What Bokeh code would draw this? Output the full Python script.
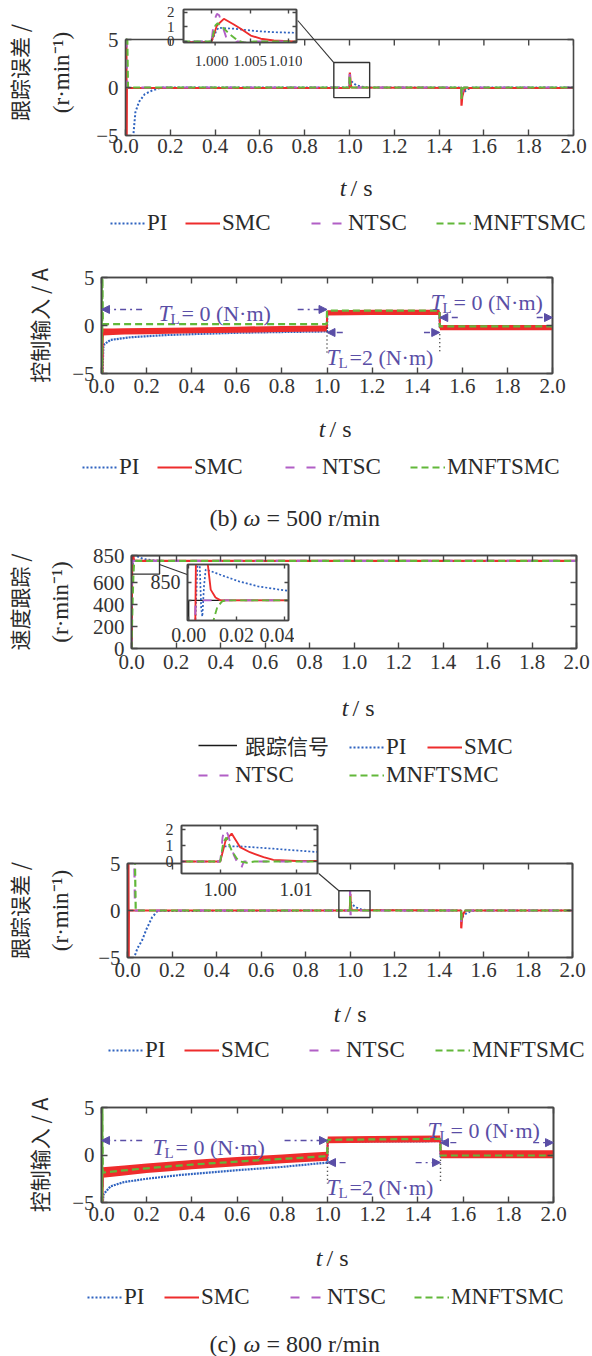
import numpy as np
from bokeh.plotting import figure
from bokeh.models import (Range1d, LinearAxis, FixedTicker, CustomJSTickFormatter,
                          NumeralTickFormatter, Label, Legend, LegendItem, Arrow, NormalHead, Span)
from bokeh.layouts import column
from bokeh.embed import file_html
from bokeh.resources import INLINE

# ================= DATA =================
SERIES = ["PI", "SMC", "NTSC", "MNFTSMC"]
REF_NAME = "跟踪信号"

# --- (b) 500 r/min : tracking error ---
e5_pi_t = [0.030, 0.035, 0.044, 0.060, 0.086, 0.120, 0.160, 0.9995, 1.0000, 1.0006, 1.0009, 1.0029, 1.0059, 1.0081,
           1.0107, 1.015, 1.020, 1.030, 1.050, 1.080, 1.4995, 1.5000, 1.5020, 1.5100, 1.5200, 1.5300, 1.5500, 2.000]
e5_pi_v = [-6.0, -5.0, -2.6, -1.5, -0.7, -0.3, 0.0, 0.0, 0.0, 0.69, 0.94, 0.88, 0.71, 0.64,
           0.60, 0.50, 0.40, 0.25, 0.10, 0.0, 0.0, -0.80, -0.75, -0.50, -0.30, -0.15, 0.0, 0.0]
e5_smc_t = [0.000, 0.001, 0.002, 0.003, 0.004, 0.005, 0.006, 0.9995, 1.0000, 1.0007, 1.0016, 1.0029, 1.0038, 1.0051,
            1.0064, 1.0081, 1.0107, 1.4995, 1.5000, 1.5030, 1.5100, 1.5200, 2.000]
e5_smc_v = [5.0, -6.0, 5.0, -6.0, 5.0, -6.0, -0.05, -0.05, 0.0, 1.10, 1.56, 1.17, 0.88, 0.41,
            0.19, 0.07, 0.0, -0.05, -1.9, -1.0, -0.3, -0.05, -0.05]
e5_ntsc_t = [0.000, 0.004, 0.008, 0.9995, 1.0000, 1.0003, 1.0007, 1.0010, 1.0014, 1.0019, 1.0022, 1.0030, 1.0034,
             1.0047, 1.0060, 1.4995, 1.5000, 1.5030, 1.5100, 2.000]
e5_ntsc_v = [5.0, 5.0, 0.0, 0.0, 0.0, 1.38, 1.90, 1.80, 1.10, 0.30, 0.0, -0.06, 0.0,
             -0.07, 0.0, 0.0, -1.3, -0.5, 0.0, 0.0]
e5_mn_t = [0.000, 0.008, 0.011, 0.9995, 1.0000, 1.0005, 1.0008, 1.0014, 1.0023, 1.0034, 1.0042, 1.0055,
           1.4995, 1.5000, 1.5020, 1.5100, 2.000]
e5_mn_v = [5.0, 5.0, 0.0, 0.0, 0.0, 1.10, 1.26, 0.99, 0.53, 0.06, -0.08, 0.0,
           0.0, -1.2, -0.4, 0.0, 0.0]

# --- (b) 500 r/min : control input ---
u5_t = [0.0, 0.004, 0.006, 0.05, 0.1, 0.2, 0.4, 0.6, 0.8, 0.999, 1.001, 1.2, 1.499, 1.501, 1.7, 2.0]
u5_smc_lo = [-5.5, -5.5, -1.05, -1.0, -0.95, -0.9, -0.82, -0.75, -0.68, -0.62, 1.05, 1.1, 1.1, -0.5, -0.5, -0.5]
u5_smc_hi = [-5.5, -5.5, -0.3, -0.3, -0.28, -0.25, -0.2, -0.12, -0.05, 0.0, 1.6, 1.65, 1.65, 0.05, 0.05, 0.05]
u5_smc_mid = [-5.5, -5.5, -0.68, -0.65, -0.62, -0.58, -0.51, -0.44, -0.37, -0.31, 1.32, 1.37, 1.37, -0.22, -0.22, -0.22]
u5_pi_t = [0.004, 0.008, 0.013, 0.04, 0.13, 0.28, 0.43, 0.6, 0.8, 1.0, 1.001, 1.499, 1.5, 2.0]
u5_pi_v = [-5.5, -2.3, -1.95, -1.5, -1.22, -1.0, -0.88, -0.76, -0.68, -0.62, 1.3, 1.3, -0.2, -0.2]
u5_ntsc_t = [0.0, 0.004, 0.006, 0.999, 1.001, 1.499, 1.501, 2.0]
u5_ntsc_v = [-5.5, -5.5, -0.6, -0.35, 1.3, 1.35, -0.25, -0.25]
u5_mn_t = [0.0, 0.001, 0.002, 0.003, 0.004, 0.006, 0.999, 1.0, 1.499, 1.5, 2.0]
u5_mn_v = [5.5, -5.5, 5.5, -5.5, 5.5, 0.15, 0.15, 1.55, 1.55, -0.1, -0.1]

# --- (c) 800 r/min : speed tracking ---
sp_ref_t = [0.0, 0.0, 2.0]
sp_ref_v = [0, 800, 800]
sp_pi_t = [0.0, 0.002, 0.004, 0.0046, 0.0052, 0.0057, 0.0064, 0.0071, 0.009, 0.013, 0.021, 0.029, 0.040,
           0.060, 0.100, 0.150, 2.0]
sp_pi_v = [0, 600, 960, 900, 780, 755, 840, 886, 882, 872, 853, 839, 828, 815, 805, 800, 800]
sp_smc_t = [0.0, 0.0027, 0.0031, 0.0050, 0.0078, 0.0080, 0.0092, 0.0112, 0.0133, 0.020, 2.0]
sp_smc_v = [0, 700, 960, 990, 950, 900, 830, 808, 800, 800, 800]
sp_ntsc_t = [0.0, 0.0028, 0.0030, 2.0]
sp_ntsc_v = [0, 780, 800, 800]
sp_mn_t = [0.0, 0.002, 0.005, 0.008, 0.0098, 0.0106, 0.012, 0.014, 0.0154, 0.020, 2.0]
sp_mn_v = [0, 200, 450, 650, 730, 750, 783, 797, 800, 800, 800]

# --- (c) 800 r/min : tracking error ---
e8_pi_t = [0.025, 0.030, 0.045, 0.065, 0.085, 0.110, 0.135, 0.9995, 1.0000, 1.0004, 1.0026, 1.0070, 1.0125,
           1.020, 1.030, 1.050, 1.080, 1.4995, 1.5000, 1.5020, 1.5100, 1.5200, 1.5400, 1.5600, 2.000]
e8_pi_v = [-6.0, -5.0, -4.0, -3.2, -2.0, -0.75, -0.05, 0.0, 0.0, 0.95, 0.95, 0.80, 0.60,
           0.45, 0.30, 0.12, 0.02, 0.0, -0.9, -0.85, -0.55, -0.35, -0.1, 0.0, 0.0]
e8_smc_t = [0.000, 0.001, 0.002, 0.003, 0.004, 0.005, 0.006, 0.9995, 1.0000, 1.0007, 1.0015, 1.0026, 1.0039,
            1.0057, 1.0070, 1.0100, 1.4995, 1.5000, 1.5030, 1.5100, 1.5200, 2.000]
e8_smc_v = [6.0, -6.0, 6.0, -6.0, 6.0, -6.0, 0.0, 0.0, 0.0, 1.30, 1.75, 0.90, 0.58,
            0.27, 0.10, 0.03, 0.0, -1.9, -0.9, -0.3, 0.0, 0.0]
e8_ntsc_t = [0.000, 0.030, 0.034, 0.9995, 1.0000, 1.0003, 1.0006, 1.0010, 1.0018, 1.0027, 1.0031,
             1.4995, 1.5000, 1.5030, 1.5100, 2.000]
e8_ntsc_v = [6.0, 6.0, 0.0, 0.0, 0.0, 1.50, 2.10, 1.70, 0.38, -0.50, 0.0, 0.0, -1.2, -0.4, 0.0, 0.0]
e8_mn_t = [0.000, 0.033, 0.037, 0.9995, 1.0000, 1.0004, 1.0008, 1.0015, 1.0022, 1.0026, 1.0035, 1.0045,
           1.4995, 1.5000, 1.5020, 1.5100, 2.000]
e8_mn_v = [6.0, 6.0, 0.0, 0.0, 0.0, 1.20, 1.50, 0.69, 0.17, 0.0, -0.08, 0.0, 0.0, -1.1, -0.4, 0.0, 0.0]

# --- (c) 800 r/min : control input ---
u8_t = [0.0, 0.004, 0.006, 0.1, 0.2, 0.3, 0.4, 0.5, 0.6, 0.7, 0.8, 0.9, 0.999, 1.001, 1.2, 1.499, 1.501, 1.7, 2.0]
u8_smc_lo = [-5.5, -5.5, -2.4, -2.15, -1.9, -1.7, -1.5, -1.33, -1.18, -1.03, -0.88, -0.73, -0.6, 1.25, 1.3, 1.35,
             -0.35, -0.35, -0.35]
u8_smc_hi = [-5.5, -5.5, -1.3, -1.1, -0.9, -0.7, -0.52, -0.37, -0.22, -0.08, 0.06, 0.2, 0.35, 1.95, 2.0, 2.05,
             0.5, 0.5, 0.5]
u8_smc_mid = [-5.5, -5.5, -1.85, -1.62, -1.4, -1.2, -1.01, -0.85, -0.7, -0.55, -0.41, -0.27, -0.12, 1.6, 1.65, 1.7,
              0.08, 0.08, 0.08]
u8_mn_t = [0.0, 0.001, 0.002, 0.003, 0.004, 0.006, 0.1, 0.2, 0.3, 0.4, 0.5, 0.6, 0.7, 0.8, 0.9, 0.999, 1.0,
           1.499, 1.5, 2.0]
u8_mn_v = [5.5, -5.5, 5.5, -5.5, 5.5, -1.85, -1.62, -1.4, -1.2, -1.01, -0.85, -0.7, -0.55, -0.41, -0.27, -0.12, 1.6,
           1.7, -0.05, -0.05]
u8_pi_t = [0.004, 0.008, 0.01, 0.04, 0.1, 0.2, 0.35, 0.5, 0.6, 0.8, 1.0, 1.001, 1.499, 1.5, 2.0]
u8_pi_v = [-5.5, -4.4, -4.1, -3.3, -2.85, -2.5, -2.1, -1.8, -1.6, -1.25, -0.8, 1.4, 1.45, -0.2, -0.2]
u8_ntsc_t = [0.0, 0.004, 0.006, 0.999, 1.001, 1.499, 1.501, 2.0]
u8_ntsc_v = [-5.5, -5.5, -1.9, -0.15, 1.55, 1.65, 0.0, 0.0]

# ticks
t_ticks = [0.0, 0.2, 0.4, 0.6, 0.8, 1.0, 1.2, 1.4, 1.6, 1.8, 2.0]
pm5_ticks = [-5, 0, 5]
speed_ticks = [0, 200, 400, 600, 850]
insA_xticks = [1.000, 1.005, 1.010]
insA_yticks = [0, 1, 2]
insC_xticks = [0.0, 0.02, 0.04]
insC_yticks = [800, 850]
insD_xticks = [1.00, 1.01]
insD_yticks = [0, 1, 2]

# zoom boxes (left, right, bottom, top)
boxA = [0.93, 1.09, -1.05, 2.6]
boxC = [0.0, 0.126, 680, 850]
boxD = [0.95, 1.09, -0.75, 2.1]

# ================= STYLE =================
SERIF = "Liberation Serif"
CJK = "Noto Sans CJK SC"
C_PI, C_SMC, C_NTSC, C_MN = "#2f63c0", "#ee2c2c", "#b15fc6", "#62b83a"
C_REF, C_ANN, AX, TXT = "#1a1a1a", "#5a4ea6", "#474747", "#2a2a2a"
D_PI, D_NTSC, D_MN = "2 2", "9 12", "7 4"
TICK_FS = 21


def new_fig(W, H, bl, br, bt, bb, xr, yr, transparent=False, axes=True):
    kw = {} if axes else dict(x_axis_type=None, y_axis_type=None)
    p = figure(width=W, height=H, x_range=Range1d(*xr), y_range=Range1d(*yr),
               toolbar_location=None, output_backend="svg", title=None,
               min_border_left=bl, min_border_right=br, min_border_top=bt, min_border_bottom=bb, **kw)
    p.frame_align = False
    p.grid.visible = False
    p.outline_line_color = AX
    p.outline_line_width = 1.6
    p.background_fill_color = "white"
    if transparent:
        p.border_fill_color = None
    return p


def tickstyle(ax, tl):
    ax.minor_tick_line_color = None
    ax.major_tick_in = tl
    ax.major_tick_out = 0
    ax.major_tick_line_color = AX
    ax.major_tick_line_width = 1.4
    ax.axis_line_color = AX
    ax.axis_line_width = 1.6


def dress(p, xticks, yticks, xfmt, yover, fsx, fsy, xs, ys, tl, top=True, ybounds=None):
    xa, ya = p.xaxis[0], p.yaxis[0]
    xa.ticker = FixedTicker(ticks=xticks)
    ya.ticker = FixedTicker(ticks=yticks)
    if xfmt:
        xa.formatter = NumeralTickFormatter(format=xfmt)
    if yover:
        ya.major_label_overrides = yover
    if ybounds:
        ya.bounds = ybounds
    for ax, st, fs in ((xa, xs, fsx), (ya, ys, fsy)):
        tickstyle(ax, tl)
        ax.major_label_text_font = SERIF
        ax.major_label_text_font_size = f"{fs}px"
        ax.major_label_text_color = "#333333"
        ax.major_label_standoff = st
    locs = [("right", yticks)]
    if top:
        locs.append(("above", xticks))
    for loc, ticks in locs:
        ax = LinearAxis(ticker=FixedTicker(ticks=ticks),
                        formatter=CustomJSTickFormatter(code="return ''"))
        ax.major_label_text_font_size = "1px"
        ax.major_label_standoff = 0
        if loc == "right" and ybounds:
            ax.bounds = ybounds
        tickstyle(ax, tl)
        p.add_layout(ax, loc)


def ytitles(p, inner, inner_font, inner_size, inner_st, outer=None, outer_st=0):
    ya = p.yaxis[0]
    ya.axis_label = inner
    ya.axis_label_text_font = inner_font
    ya.axis_label_text_font_size = f"{inner_size}px"
    ya.axis_label_text_font_style = "normal"
    ya.axis_label_text_color = TXT
    ya.axis_label_standoff = inner_st
    if outer:
        ax = LinearAxis(ticker=FixedTicker(ticks=[]), axis_label=outer,
                        formatter=CustomJSTickFormatter(code="return ''"))
        ax.axis_line_color = None
        ax.major_tick_line_color = None
        ax.minor_tick_line_color = None
        ax.major_label_text_font_size = "1px"
        ax.major_label_standoff = 0
        ax.axis_label_text_font = CJK
        ax.axis_label_text_font_size = "21px"
        ax.axis_label_text_font_style = "normal"
        ax.axis_label_text_color = TXT
        ax.axis_label_standoff = outer_st
        p.add_layout(ax, "left")


def main_panel(P, xr, yr, xticks, yticks, xfmt, yover, xs, top=True, ybounds=None):
    p = new_fig(592, P["H"], P["fl"], 592 - P["fr"], P["ft"] - P["y0"], P["y0"] + P["H"] - P["fb"], xr, yr)
    dress(p, xticks, yticks, xfmt, yover, TICK_FS, TICK_FS, xs, 7, 6, top=top, ybounds=ybounds)
    return p


def strip(S):
    p = new_fig(592, S["H"], 0, 0, 0, 0, (0, 592), (0, S["H"]), axes=False)
    p.outline_line_color = None
    return p


def inset_panel(P, I, xr, yr, xticks, yticks, xfmt, yover, fsx, fsy, xs, ys):
    bl, br, bt, bb = I["b"]
    W = bl + (I["R"] - I["L"]) + br
    H = bt + (I["B"] - I["T"]) + bb
    x0, y0 = I["L"] - bl, I["T"] - bt
    p = new_fig(W, H, bl, br, bt, bb, xr, yr, transparent=True)
    dress(p, xticks, yticks, xfmt, yover, fsx, fsy, xs, ys, 4)
    bottom = P["y0"] + P["H"]
    p.margin = (y0 - bottom, 0, bottom - (y0 + H), x0)
    return p


def put(p, P, X, Y, text, size, font=SERIF, style="normal", color=TXT, align="center",
        baseline="middle", angle=0.0):
    p.add_layout(Label(x=X - P["fl"], y=P["fb"] - Y, x_units="screen", y_units="screen", text=text,
                       text_font=font, text_font_size=f"{size}px", text_font_style=style,
                       text_color=color, text_align=align, text_baseline=baseline, angle=angle))


def legend_item(p, P, X, Y, label, r, font=SERIF, size=23, standoff=2, gw=35):
    h = 26
    lg = Legend(items=[LegendItem(label=label, renderers=[r])],
                location=(X - P["fl"], P["fb"] - Y - h / 2), orientation="horizontal",
                glyph_width=gw, glyph_height=h, label_height=h, label_standoff=standoff,
                padding=0, margin=0, spacing=0, border_line_color=None, background_fill_alpha=0,
                inactive_fill_alpha=0,
                label_text_font=font, label_text_font_size=f"{size}px", label_text_color=TXT,
                label_text_baseline="middle")
    p.add_layout(lg)


def px2data(P, xr, yr, X, Y):
    x = xr[0] + (X - P["fl"]) / (P["fr"] - P["fl"]) * (xr[1] - xr[0])
    y = yr[1] - (Y - P["ft"]) / (P["fb"] - P["ft"]) * (yr[1] - yr[0])
    return x, y


def xlabel(p, S, cx, cy):
    put(p, S, cx - 9, cy, "t", 24, style="italic", align="right")
    put(p, S, cx - 5, cy, "/ s", 24, align="left")


def caption(p, S, Y, tag, rest):
    put(p, S, 209, Y, tag, 24, align="left")
    put(p, S, 243, Y, "ω", 24, style="italic", align="left")
    put(p, S, 266, Y, rest, 24, align="left")


STYLE = {"PI": (C_PI, D_PI, 2.0), "SMC": (C_SMC, "solid", 2.2),
         "NTSC": (C_NTSC, D_NTSC, 2.2), "MNFTSMC": (C_MN, D_MN, 2.2), "REF": (C_REF, "solid", 1.6)}


def legend_renderers(p, named_data):
    """Hidden copies of the series inside the legend strip, used only as legend glyph sources."""
    rs = {}
    for n, (t, v) in named_data.items():
        c, d, w = STYLE[n]
        rs[n] = p.line(t, v, color=c, line_dash=d, line_width=w, visible=False)
    return rs


def error_lines(p, data, scale=1.0):
    for name, (t, v) in zip(SERIES, data):
        c, d, w = STYLE[name]
        p.line(t, v, color=c, line_width=w * scale, line_dash=d)


def connector(p, x0, y0, x1, y1):
    p.add_layout(Arrow(end=None, x_start=x0, y_start=y0, x_end=x1, y_end=y1,
                       line_color="#333333", line_width=1.1))


def zoombox(p, b):
    p.quad(left=[b[0]], right=[b[1]], bottom=[b[2]], top=[b[3]], fill_color=None,
           line_color="#333333", line_width=1.4)


def tl_label(p, P, X, Y, rest):
    put(p, P, X, Y, "T", 23, style="italic", color=C_ANN, align="left", baseline="alphabetic")
    put(p, P, X + 12, Y + 5, "L", 15, color=C_ANN, align="left", baseline="alphabetic")
    put(p, P, X + 23, Y, rest, 22, color=C_ANN, align="left", baseline="alphabetic")


def tl_arrow(p, x0, y0, x1, y1):
    p.add_layout(Arrow(end=NormalHead(size=8, fill_color=C_ANN, line_color=C_ANN, line_width=1),
                       x_start=x0, y_start=y0, x_end=x1, y_end=y1,
                       line_color=C_ANN, line_width=1.4, line_dash="6 4 2 4"))


def control_lines(p, pi, ntsc, smc, mn):
    c, d, w = STYLE["PI"]
    p.line(pi[0], pi[1], color=c, line_width=2.2, line_dash="2 1")
    c, d, w = STYLE["NTSC"]
    p.line(ntsc[0], ntsc[1], color=c, line_width=w, line_dash=d)
    p.varea(x=smc[0], y1=smc[1], y2=smc[2], fill_color=C_SMC)
    p.line(smc[0], smc[3], color=C_SMC, line_width=2.0)
    c, d, w = STYLE["MNFTSMC"]
    p.line(mn[0], mn[1], color=c, line_width=w, line_dash=d)


MINUS = {-5: "−5"}
TR = (0.0, 2.0)
YR5 = (-5, 5)

# ================= PANEL 1 : error 500 =================
P1 = dict(y0=0, H=165, fl=123, fr=573, ft=9, fb=135)
YR1 = (-5, 5 + 30 / 9.6)            # frame extended upward to host the inset connector
p1 = main_panel(P1, TR, YR1, t_ticks, pm5_ticks, "0.0", MINUS, 3, top=False, ybounds=(-5, 5))
p1.outline_line_color = None
p1.add_layout(Span(location=5, dimension="width", line_color=AX, line_width=1.6))
p1.segment(x0=t_ticks, y0=[5] * len(t_ticks), x1=t_ticks, y1=[5 - 6 / 9.6] * len(t_ticks),
           line_color=AX, line_width=1.4)
d1 = [(e5_pi_t, e5_pi_v), (e5_smc_t, e5_smc_v), (e5_ntsc_t, e5_ntsc_v), (e5_mn_t, e5_mn_v)]
error_lines(p1, d1)
zoombox(p1, boxA)
cx, cy = px2data(P1, TR, YR1, 296, 20)
connector(p1, boxA[0], boxA[3], cx, cy)
ytitles(p1, "(r·min⁻¹)", SERIF, 23, 19, "跟踪误差 /", 13)

IA = dict(L=183, R=296, T=9, B=42, b=(28, 6, 6, 34))
iA = inset_panel(P1, IA, (0.99636, 1.01104), (-0.07, 2.2), insA_xticks, insA_yticks, "0.000", None,
                 15, 15, 13, 9)
error_lines(iA, d1, 0.85)

S1 = dict(y0=165, H=85, fl=0, fb=250)
s1 = strip(S1)
xlabel(s1, S1, 355, 187)
g1 = legend_renderers(s1, dict(zip(SERIES, d1)))
for name, X in zip(SERIES, [110, 185, 311, 436]):
    legend_item(s1, S1, X, 223, name, g1[name])

# ================= PANEL 2 : control 500 =================
P2 = dict(y0=250, H=152, fl=101, fr=552, ft=277, fb=373)
p2 = main_panel(P2, TR, YR5, t_ticks, pm5_ticks, "0.0", MINUS, 5)
control_lines(p2, (u5_pi_t, u5_pi_v), (u5_ntsc_t, u5_ntsc_v),
              (u5_t, u5_smc_lo, u5_smc_hi, u5_smc_mid), (u5_mn_t, u5_mn_v))
p2.segment(x0=[1.0, 1.5], y0=[-0.2, -0.9], x1=[1.0, 1.5], y1=[-2.8, -2.8],
           line_color="#222222", line_width=1.4, line_dash="1 3")
tl_arrow(p2, 0.18, 1.67, 0.0, 1.67)
tl_arrow(p2, 0.87, 1.67, 1.0, 1.67)
tl_arrow(p2, 1.58, 0.83, 1.5, 0.83)
tl_arrow(p2, 1.93, 0.83, 2.0, 0.83)
tl_arrow(p2, 1.07, -0.73, 1.0, -0.73)
tl_arrow(p2, 1.43, -0.73, 1.5, -0.73)
tl_label(p2, P2, 158, 313, "= 0 (N·m)")
tl_label(p2, P2, 430, 302, "= 0 (N·m)")
tl_label(p2, P2, 326, 357, "=2 (N·m)")
ytitles(p2, "控制输入 / A", CJK, 21, 15)

S2 = dict(y0=402, H=138, fl=0, fb=540)
s2 = strip(S2)
xlabel(s2, S2, 334, 428)
g2 = legend_renderers(s2, {"PI": (u5_pi_t, u5_pi_v), "SMC": (u5_t, u5_smc_mid),
                           "NTSC": (u5_ntsc_t, u5_ntsc_v), "MNFTSMC": (u5_mn_t, u5_mn_v)})
for name, X in zip(SERIES, [82, 157, 285, 410]):
    legend_item(s2, S2, X, 467, name, g2[name])
caption(s2, S2, 517, "(b)", "= 500 r/min")

# ================= PANEL 3 : speed 800 =================
P3 = dict(y0=540, H=140, fl=125, fr=576, ft=555, fb=648)
YRS = (0, 850)
p3 = main_panel(P3, TR, YRS, t_ticks, speed_ticks, "0.0", None, 6)
speed_data = {"REF": (sp_ref_t, sp_ref_v), "PI": (sp_pi_t, sp_pi_v), "SMC": (sp_smc_t, sp_smc_v),
              "NTSC": (sp_ntsc_t, sp_ntsc_v), "MNFTSMC": (sp_mn_t, sp_mn_v)}


def speed_lines(p, scale=1.0):
    for name, (t, v) in speed_data.items():
        c, d, w = STYLE[name]
        p.line(t, v, color=c, line_width=w * scale, line_dash=d)


speed_lines(p3)
zoombox(p3, boxC)
cx, cy = px2data(P3, TR, YRS, 187, 576)
connector(p3, boxC[1], 768, cx, cy)
ytitles(p3, "(r·min⁻¹)", SERIF, 23, 17, "速度跟踪 /", 11)

IC = dict(L=187, R=288, T=564, B=620, b=(40, 6, 3, 30))
iC = inset_panel(P3, IC, (-0.0005, 0.0417), (744, 900), insC_xticks, insC_yticks, "0.00", {800: ""},
                 20, 20, 7, 7)
speed_lines(iC, 0.85)

S3 = dict(y0=680, H=120, fl=0, fb=800)
s3 = strip(S3)
xlabel(s3, S3, 357, 707)
g3 = legend_renderers(s3, speed_data)
legend_item(s3, S3, 198, 747, REF_NAME, g3["REF"], font=CJK, size=21, standoff=8, gw=39)
legend_item(s3, S3, 349, 747, "PI", g3["PI"])
legend_item(s3, S3, 427, 747, "SMC", g3["SMC"])
legend_item(s3, S3, 198, 775, "NTSC", g3["NTSC"])
legend_item(s3, S3, 349, 775, "MNFTSMC", g3["MNFTSMC"])

# ================= PANEL 4 : error 800 =================
P4 = dict(y0=800, H=188, fl=125, fr=572, ft=863, fb=957)
p4 = main_panel(P4, TR, YR5, t_ticks, pm5_ticks, "0.0", MINUS, 5)
d4 = [(e8_pi_t, e8_pi_v), (e8_smc_t, e8_smc_v), (e8_ntsc_t, e8_ntsc_v), (e8_mn_t, e8_mn_v)]
error_lines(p4, d4)
zoombox(p4, boxD)
cx, cy = px2data(P4, TR, YR5, 317, 873)
connector(p4, boxD[0], boxD[3], cx, cy)
ytitles(p4, "(r·min⁻¹)", SERIF, 23, 22, "跟踪误差 /", 12)

ID = dict(L=181, R=317, T=825, B=873, b=(30, 6, 8, 32))
iD = inset_panel(P4, ID, (0.9949, 1.0128), (-0.75, 2.25), insD_xticks, insD_yticks, "0.00", None,
                 19, 16, 9, 8)
error_lines(iD, d4, 0.85)

S4 = dict(y0=988, H=87, fl=0, fb=1075)
s4 = strip(S4)
xlabel(s4, S4, 349, 1013)
g4 = legend_renderers(s4, dict(zip(SERIES, d4)))
for name, X in zip(SERIES, [108, 184, 309, 435]):
    legend_item(s4, S4, X, 1050, name, g4[name])

# ================= PANEL 5 : control 800 =================
P5 = dict(y0=1075, H=157, fl=101, fr=553, ft=1107, fb=1202)
p5 = main_panel(P5, TR, YR5, t_ticks, pm5_ticks, "0.0", MINUS, 4)
control_lines(p5, (u8_pi_t, u8_pi_v), (u8_ntsc_t, u8_ntsc_v),
              (u8_t, u8_smc_lo, u8_smc_hi, u8_smc_mid), (u8_mn_t, u8_mn_v))
p5.segment(x0=[1.0, 1.5], y0=[-0.4, -0.5], x1=[1.0, 1.5], y1=[-3.0, -3.0],
           line_color="#222222", line_width=1.4, line_dash="1 3")
tl_arrow(p5, 0.18, 1.53, 0.0, 1.53)
tl_arrow(p5, 0.81, 1.53, 1.0, 1.53)
tl_arrow(p5, 1.57, 1.3, 1.5, 1.3)
tl_arrow(p5, 1.91, 1.3, 2.0, 1.3)
tl_arrow(p5, 1.08, -0.8, 1.0, -0.8)
tl_arrow(p5, 1.39, -0.8, 1.5, -0.8)
tl_label(p5, P5, 152, 1147, "= 0 (N·m)")
tl_label(p5, P5, 427, 1130, "= 0 (N·m)")
tl_label(p5, P5, 326, 1187, "=2 (N·m)")
ytitles(p5, "控制输入 / A", CJK, 21, 15)

S5 = dict(y0=1232, H=124, fl=0, fb=1356)
s5 = strip(S5)
xlabel(s5, S5, 331, 1257)
g5 = legend_renderers(s5, {"PI": (u8_pi_t, u8_pi_v), "SMC": (u8_t, u8_smc_mid),
                           "NTSC": (u8_ntsc_t, u8_ntsc_v), "MNFTSMC": (u8_mn_t, u8_mn_v)})
for name, X in zip(SERIES, [87, 164, 290, 414]):
    legend_item(s5, S5, X, 1297, name, g5[name])
caption(s5, S5, 1343, "(c)", "= 800 r/min")

layout = column(p1, iA, s1, p2, s2, p3, iC, s3, p4, iD, s4, p5, s5, spacing=0)
open("out.html", "w").write(file_html(layout, INLINE))
